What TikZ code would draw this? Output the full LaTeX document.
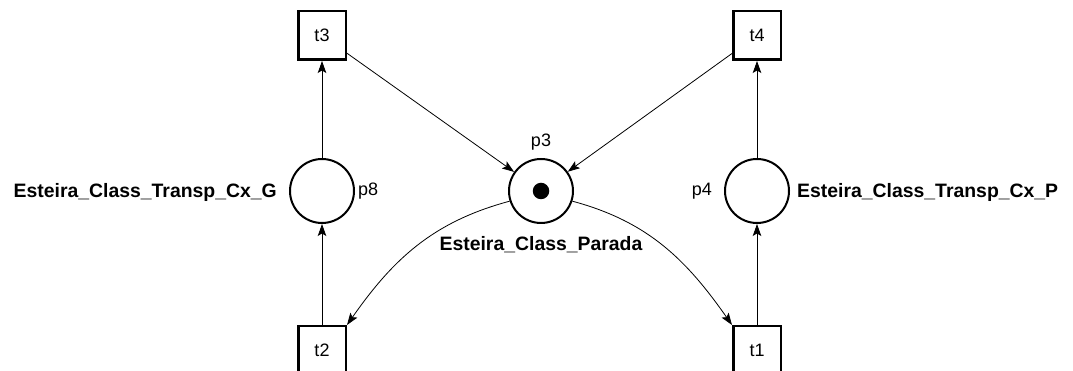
\documentclass[tikz,border=0pt]{standalone}
\usepackage{fontspec}
\setmainfont{Liberation Sans}
\usetikzlibrary{arrows.meta}
\begin{document}
\begin{tikzpicture}[x=1pt,y=1pt,
  place/.style={circle, draw, line width=2pt, minimum size=64pt, inner sep=0},
  trans/.style={rectangle, draw, line width=2.5pt, minimum width=47.5pt, minimum height=48.5pt, inner sep=0, font=\fontsize{18}{20}\selectfont},
  arc/.style={-{Stealth[length=12pt,width=8.5pt,inset=2.5pt]}, line width=0.8pt},
  pname/.style={font=\bfseries\fontsize{19.4}{22}\selectfont, inner sep=0},
  lbl/.style={font=\fontsize{18}{20}\selectfont, inner sep=0}]
\useasboundingbox (0,0) rectangle (1073,371);
\node[trans] (t3) at (322,335.5) {t3};
\node[trans] (t4) at (757,335.5) {t4};
\node[place] (p8) at (322,180) {};
\node[place] (p3) at (541,180) {};
\node[place] (p4) at (757,180) {};
\node[trans] (t2) at (322,20.5) {t2};
\node[trans] (t1) at (757,20.5) {t1};
\node[circle, fill, minimum size=16.5pt, inner sep=0] (tok) at (p3) {};
\draw[arc] (p8) -- (t3);
\draw[arc] (t2) -- (p8);
\draw[arc] (p4) -- (t4);
\draw[arc] (t1) -- (p4);
\draw[arc] (t3) -- (p3);
\draw[arc] (t4) -- (p3);
\draw[arc] (p3.198) to[out=195,in=55] (t2.north east);
\draw[arc] (p3.-18) to[out=-15,in=125] (t1.north west);
\node[pname, anchor=base east] (lg) at (277,173.5) {Esteira\_Class\_Transp\_Cx\_G};
\node[lbl, anchor=base west] (l8) at (358,175) {p8};
\node[lbl, anchor=base] (l3) at (541,224) {p3};
\node[pname, anchor=base] (lpar) at (541,120.5) {Esteira\_Class\_Parada};
\node[lbl, anchor=base east] (l4) at (712,175) {p4};
\node[pname, anchor=base west] (lp) at (797,173.5) {Esteira\_Class\_Transp\_Cx\_P};
\end{tikzpicture}
\end{document}
